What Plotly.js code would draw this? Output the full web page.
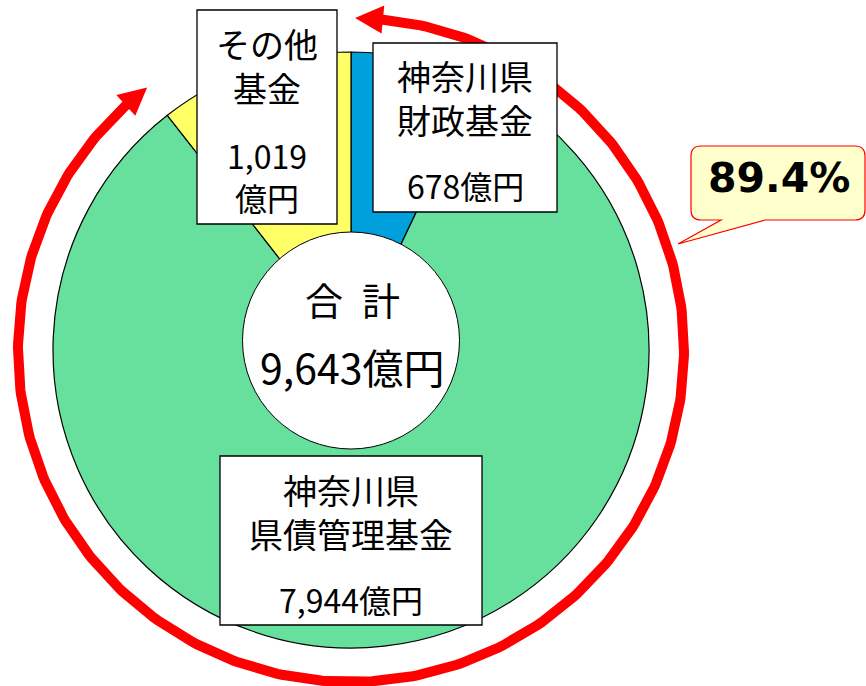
<!DOCTYPE html>
<html><head><meta charset="utf-8">
<script src="https://cdn.plot.ly/plotly-3.0.1.min.js"></script>
<style>html,body{margin:0;padding:0;background:#fff}#chart{width:866px;height:686px}</style>
</head><body><div id="chart"></div>
<script>
// ---- data ----
const categories = ['神奈川県財政基金', '神奈川県県債管理基金', 'その他基金'];
const values = [678, 7944, 1019];
const nameLabels = ['神奈川県<br>財政基金', '神奈川県<br>県債管理基金', 'その他<br>基金'];
const valueLabels = ['678億円', '7,944億円', '1,019<br>億円'];
const colors = ['#00A0DC', '#66E09C', '#FFFF66'];
const totalTitle = '合\u2002計';
const totalLabel = '9,643億円';
const shareLabel = '89.4%';

// ---- geometry (pixel space) ----
const W = 866, H = 686;
const total = values.reduce((a, b) => a + b, 0);
const share = (values[0] + values[1]) / total;   // covered by the red arrow

// red arrow ellipse
const cx = 351, cy = 350, rx = 333, ry = 332;
function ept(phiDeg, d) {
  const p = phiDeg * Math.PI / 180;
  return [cx + (rx + d) * Math.sin(p), cy - (ry + d) * Math.cos(p)];
}
const tipA = 0.7, baseA = 5.5;
const tipB = share * 360 + 0.3, baseB = tipB - 4.8;
const arcX = [], arcY = [];
for (let i = 0; i <= 400; i++) {
  const phi = (baseA - 0.5) + (baseB + 0.5 - (baseA - 0.5)) * i / 400;
  const q = ept(phi, 0);
  arcX.push(q[0]); arcY.push(q[1]);
}
function tri(tip, base) {
  const t = ept(tip, 0), b1 = ept(base, -14), b2 = ept(base, 14);
  return `M ${t[0]},${t[1]} L ${b1[0]},${b1[1]} L ${b2[0]},${b2[1]} Z`;
}

// ---- boxes (label positions) ----
const boxes = [
  {x0: 373, x1: 557, y0: 43, y1: 212, cx: 465, nameY: 97.5, valY: 185},
  {x0: 220, x1: 482, y0: 456, y1: 625, cx: 351, nameY: 511, valY: 599},
  {x0: 197, x1: 337, y0: 10, y1: 224, cx: 267, nameY: 65.5, valY: 175.5}
];

const jp = '"Noto Sans CJK JP", "Noto Sans", sans-serif';

const shapes = [];
const annotations = [];

// hole
shapes.push({type: 'circle', xref: 'x', yref: 'y', x0: 242.5, x1: 459.5, y0: 232, y1: 449,
  fillcolor: '#ffffff', line: {color: '#000', width: 1}, layer: 'above'});
// label boxes
boxes.forEach((b, i) => {
  shapes.push({type: 'rect', xref: 'x', yref: 'y', x0: b.x0, x1: b.x1, y0: b.y0, y1: b.y1,
    fillcolor: '#ffffff', line: {color: '#000', width: 1.3}, layer: 'above'});
  annotations.push({xref: 'x', yref: 'y', x: b.cx, y: b.nameY, text: nameLabels[i], showarrow: false,
    xanchor: 'center', yanchor: 'middle', font: {family: jp, size: 34, color: '#000'}});
  annotations.push({xref: 'x', yref: 'y', x: b.cx, y: b.valY, text: valueLabels[i], showarrow: false,
    xanchor: 'center', yanchor: 'middle', font: {family: jp, size: 32, color: '#000'}});
});
// arrow heads
shapes.push({type: 'path', xref: 'x', yref: 'y', path: tri(tipA, baseA), fillcolor: '#FF0000', line: {width: 0}, layer: 'above'});
shapes.push({type: 'path', xref: 'x', yref: 'y', path: tri(tipB, baseB), fillcolor: '#FF0000', line: {width: 0}, layer: 'above'});
// callout
const co = {x0: 691, x1: 865, y0: 146, y1: 220, r: 10};
const calloutPath = `M ${co.x0 + co.r},${co.y0} L ${co.x1 - co.r},${co.y0} Q ${co.x1},${co.y0} ${co.x1},${co.y0 + co.r} ` +
  `L ${co.x1},${co.y1 - co.r} Q ${co.x1},${co.y1} ${co.x1 - co.r},${co.y1} L 765,${co.y1} L 678,244 L 721,${co.y1} ` +
  `L ${co.x0 + co.r},${co.y1} Q ${co.x0},${co.y1} ${co.x0},${co.y1 - co.r} L ${co.x0},${co.y0 + co.r} Q ${co.x0},${co.y0} ${co.x0 + co.r},${co.y0} Z`;
shapes.push({type: 'path', xref: 'x', yref: 'y', path: calloutPath, fillcolor: '#FFFFCC', line: {color: '#FF0000', width: 1.2}, layer: 'above'});

annotations.push({xref: 'x', yref: 'y', x: 779, y: 178, text: shareLabel, showarrow: false,
  xanchor: 'center', yanchor: 'middle', font: {family: '"DejaVu Sans", Verdana, sans-serif', size: 41, color: '#000', weight: 'bold'}});
annotations.push({xref: 'x', yref: 'y', x: 352, y: 298, text: totalTitle, showarrow: false,
  xanchor: 'center', yanchor: 'middle', font: {family: jp, size: 38, color: '#000'}});
annotations.push({xref: 'x', yref: 'y', x: 352, y: 366, text: totalLabel, showarrow: false,
  xanchor: 'center', yanchor: 'middle', font: {family: jp, size: 41, color: '#000'}});

const pcx = 351, pcy = 350, pr = 298;
const data = [
  {type: 'scatter', x: arcX, y: arcY, mode: 'lines', line: {color: '#FF0000', width: 10},
   hoverinfo: 'skip', showlegend: false, xaxis: 'x', yaxis: 'y', cliponaxis: false},
  {type: 'pie', labels: categories, values: values, sort: false, direction: 'clockwise', rotation: 0,
   marker: {colors: colors, line: {color: '#000', width: 1.2}}, textinfo: 'none', hoverinfo: 'label+value',
   showlegend: false,
   domain: {x: [(pcx - pr) / W, (pcx + pr) / W], y: [1 - (pcy + pr) / H, 1 - (pcy - pr) / H]}}
];

const layout = {
  width: W, height: H, margin: {l: 0, r: 0, t: 0, b: 0, pad: 0},
  paper_bgcolor: '#ffffff', plot_bgcolor: 'rgba(0,0,0,0)', showlegend: false,
  xaxis: {range: [0, W], visible: false, fixedrange: true, domain: [0, 1]},
  yaxis: {range: [H, 0], visible: false, fixedrange: true, domain: [0, 1]},
  shapes: shapes, annotations: annotations
};

Plotly.newPlot('chart', data, layout, {displayModeBar: false, staticPlot: true});
</script>
</body></html>
